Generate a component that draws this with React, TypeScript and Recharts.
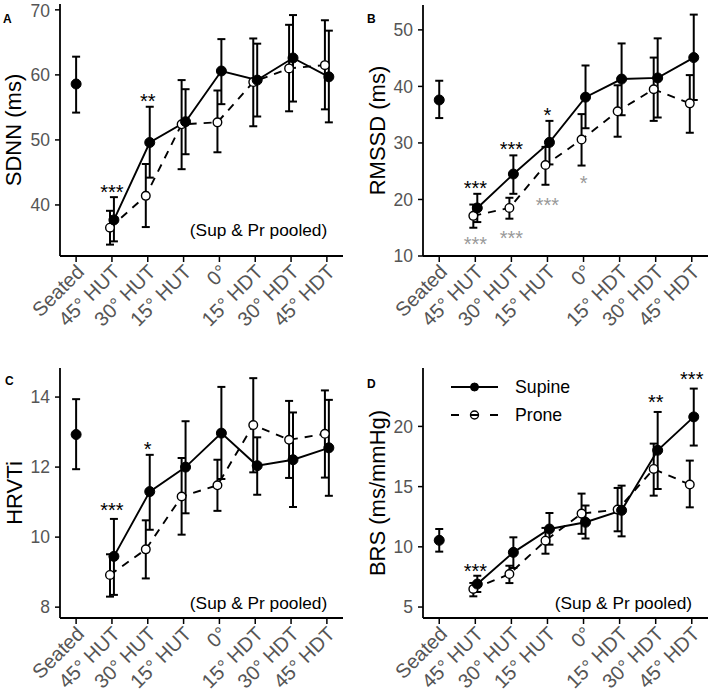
import React from 'react';
import { ComposedChart, Line, Scatter, XAxis, YAxis, ErrorBar, Label, Legend } from 'recharts';

const positions = ['Seated', '45° HUT', '30° HUT', '15° HUT', '0°', '15° HDT', '30° HDT', '45° HDT'];
const xTicks = [0, 1, 2, 3, 4, 5, 6, 7];

// seated: [mean, lower, upper]; tilt series run 45° HUT .. 45° HDT
const sdnnSeated = [58.6, 54.2, 62.8];
const sdnnSupine = [37.7, 49.6, 52.8, 60.6, 59.2, 62.6, 59.7];
const sdnnSupineLo = [34.4, 44.2, 47.8, 55.5, 53.6, 55.9, 52.7];
const sdnnSupineHi = [41.2, 55.1, 57.8, 65.5, 64.8, 69.2, 66.8];
const sdnnProne = [36.5, 41.4, 52.4, 52.7, 58.9, 61.0, 61.5];
const sdnnProneLo = [33.9, 36.6, 45.5, 48.1, 52.1, 54.4, 54.7];
const sdnnProneHi = [39.1, 46.3, 59.2, 57.6, 65.6, 67.7, 68.4];

const rmssdSeated = [37.6, 34.4, 41.0];
const rmssdSupine = [18.5, 24.5, 30.1, 38.1, 41.3, 41.5, 45.1];
const rmssdSupineLo = [16.0, 21.0, 26.2, 32.6, 34.9, 34.5, 37.6];
const rmssdSupineHi = [21.0, 27.8, 33.9, 43.7, 47.6, 48.5, 52.7];
const rmssdProne = [17.1, 18.5, 26.1, 30.6, 35.6, 39.5, 37.0];
const rmssdProneLo = [15.0, 16.6, 22.6, 26.0, 31.1, 33.9, 31.8];
const rmssdProneHi = [19.1, 20.3, 29.3, 35.1, 40.2, 45.1, 42.0];

const hrvtiSeated = [12.93, 11.94, 13.94];
const hrvtiSupine = [9.45, 11.3, 12.0, 12.97, 12.04, 12.21, 12.55];
const hrvtiSupineLo = [8.35, 10.21, 10.68, 11.66, 11.21, 10.86, 11.18];
const hrvtiSupineHi = [10.52, 12.35, 13.31, 14.29, 12.85, 13.56, 13.92];
const hrvtiProne = [8.92, 9.65, 11.16, 11.48, 13.2, 12.78, 12.95];
const hrvtiProneLo = [8.3, 8.82, 10.07, 10.75, 11.85, 11.69, 11.7];
const hrvtiProneHi = [9.51, 10.48, 12.26, 12.21, 14.54, 13.89, 14.19];

const brsSeated = [10.54, 9.6, 11.48];
const brsSupine = [6.91, 9.54, 11.48, 12.04, 13.03, 18.02, 20.79];
const brsSupineLo = [6.25, 8.24, 10.18, 10.69, 10.87, 14.8, 18.41];
const brsSupineHi = [7.6, 10.79, 12.81, 13.43, 15.08, 21.2, 23.14];
const brsProne = [6.5, 7.74, 10.51, 12.76, 13.09, 16.47, 15.17];
const brsProneLo = [5.89, 6.99, 9.43, 11.08, 11.29, 14.25, 13.28];
const brsProneHi = [7.0, 8.43, 11.57, 14.42, 14.89, 18.57, 17.16];

// significance marks: x = position index, y = value where the mark sits
const sdnnStars = [
  { x: 1, y: 42.7, text: '***', group: 'supine' },
  { x: 2, y: 56.7, text: '**', group: 'supine' },
];
const rmssdStars = [
  { x: 1, y: 22.8, text: '***', group: 'supine' },
  { x: 2, y: 29.8, text: '***', group: 'supine' },
  { x: 3, y: 35.8, text: '*', group: 'supine' },
  { x: 1, y: 12.9, text: '***', group: 'prone' },
  { x: 2, y: 14.0, text: '***', group: 'prone' },
  { x: 3, y: 19.9, text: '***', group: 'prone' },
  { x: 4, y: 23.8, text: '*', group: 'prone' },
];
const hrvtiStars = [
  { x: 1, y: 10.92, text: '***', group: 'supine' },
  { x: 2, y: 12.64, text: '*', group: 'supine' },
];
const brsStars = [
  { x: 1, y: 8.38, text: '***', group: 'supine' },
  { x: 6, y: 22.37, text: '**', group: 'supine' },
  { x: 7, y: 24.3, text: '***', group: 'supine' },
];

const pooledNote = '(Sup & Pr pooled)';
const FONT = '"Liberation Sans", Arial, Helvetica, sans-serif';
const DODGE = 0.055;

function series(mean: number[], lo: number[], hi: number[], shift: number) {
  return mean.map((m, i) => ({ x: i + 1 + shift, y: m, err: [m - lo[i], hi[i] - m] }));
}

function seatedPoint(s: number[]) {
  return [{ x: 0, y: s[0], err: [s[0] - s[1], s[2] - s[0]] }];
}

const XTick = (props: any) => {
  const { x, y, payload } = props;
  const ax = x - 1;
  return (
    <text x={ax} y={y} dy="0.72em" textAnchor="end" transform={`rotate(-45, ${ax}, ${y})`}
      fill="#555" fontSize={20} fontFamily={FONT}>
      {positions[payload.value]}
    </text>
  );
};

const StarMark = (props: any) => {
  const { cx, cy, payload } = props;
  const fs = 20;
  return (
    <text x={cx} y={cy + 0.58 * fs} textAnchor="middle" fontSize={fs} fontFamily={FONT}
      fill={payload.group === 'prone' ? '#999' : '#000'}>
      {payload.text}
    </text>
  );
};

const NoteMark = (props: any) => {
  const { cx, cy, payload } = props;
  return (
    <text x={cx} y={cy} dominantBaseline="central" textAnchor="end" fontSize={17.3} fontFamily={FONT} fill="#000">
      {payload.text}
    </text>
  );
};

const LegendKeys = () => (
  <svg width={150} height={62} style={{ overflow: 'visible' }}>
    <line x1={2} x2={49} y1={17} y2={17} stroke="#000" strokeWidth={2} />
    <circle cx={25.5} cy={17} r={4} fill="#000" stroke="#000" />
    <text x={66} y={17} dominantBaseline="central" fontSize={17.7} fontFamily={FONT}>Supine</text>
    <line x1={2} x2={49} y1={45} y2={45} stroke="#000" strokeWidth={2} strokeDasharray="8 11.5" />
    <circle cx={25.5} cy={45} r={4} fill="none" stroke="#000" strokeWidth={1.4} />
    <text x={66} y={45} dominantBaseline="central" fontSize={17.7} fontFamily={FONT}>Prone</text>
  </svg>
);

type PanelProps = {
  tag: string; tagX: number; tagY: number;
  left: number; top: number; width: number; height: number;
  marginTop: number; marginRight: number; yAxisWidth: number; xAxisHeight: number;
  domain: [number, number]; ticks: number[];
  title: string; titleX: number;
  seated: number[];
  supine: number[]; supineLo: number[]; supineHi: number[];
  prone: number[]; proneLo: number[]; proneHi: number[];
  stars: { x: number; y: number; text: string; group: string }[];
  noteY?: number;
  legend?: boolean;
};

function Panel(p: PanelProps) {
  const sup = series(p.supine, p.supineLo, p.supineHi, DODGE);
  const pr = series(p.prone, p.proneLo, p.proneHi, -DODGE);
  const seat = seatedPoint(p.seated);
  const note = p.noteY !== undefined ? [{ x: 7.01, y: p.noteY, text: pooledNote }] : [];
  const eb = { dataKey: 'err', direction: 'y' as const, width: 4, stroke: '#000', strokeWidth: 2 };
  const plotH = p.height - p.marginTop - p.xAxisHeight;
  const titleY = p.marginTop + plotH / 2;
  return (
    <>
      <div style={{ position: 'absolute', left: p.tagX, top: p.tagY, fontFamily: FONT, fontWeight: 'bold', fontSize: 12, lineHeight: 1 }}>
        {p.tag}
      </div>
      <div style={{ position: 'absolute', left: p.left, top: p.top }}>
        <ComposedChart width={p.width} height={p.height}
          margin={{ top: p.marginTop, right: p.marginRight, left: 0, bottom: 0 }}>
          <XAxis type="number" dataKey="x" domain={[-0.45, 7.45]} ticks={xTicks} allowDataOverflow
            height={p.xAxisHeight} tick={<XTick />} tickSize={6} tickMargin={1}
            axisLine={{ stroke: '#000', strokeWidth: 1.8 }} tickLine={{ stroke: '#000', strokeWidth: 1.5 }} />
          <YAxis type="number" domain={p.domain} ticks={p.ticks} allowDataOverflow width={p.yAxisWidth}
            tickSize={5} tickMargin={5}
            tick={{ fill: '#555', fontSize: 17.5, fontFamily: FONT }}
            axisLine={{ stroke: '#000', strokeWidth: 1.8 }} tickLine={{ stroke: '#000', strokeWidth: 1.5 }}>
            <Label content={() => (
              <text x={p.titleX} y={titleY} transform={`rotate(-90, ${p.titleX}, ${titleY})`}
                textAnchor="middle" dominantBaseline="central" fontSize={22} fontFamily={FONT} fill="#000">
                {p.title}
              </text>
            )} />
          </YAxis>
          <Line data={pr} dataKey="y" stroke="none" dot={false} activeDot={false} isAnimationActive={false} legendType="none">
            <ErrorBar {...eb} />
          </Line>
          <Line data={sup} dataKey="y" stroke="none" dot={false} activeDot={false} isAnimationActive={false} legendType="none">
            <ErrorBar {...eb} />
          </Line>
          <Line data={seat} dataKey="y" stroke="none" dot={false} activeDot={false} isAnimationActive={false} legendType="none">
            <ErrorBar {...eb} />
          </Line>
          <Line data={pr} dataKey="y" name="Prone" stroke="#000" strokeWidth={1.9} strokeDasharray="8 7"
            dot={{ r: 4.3, fill: '#fff', stroke: '#000', strokeWidth: 1.4, strokeDasharray: '' }}
            activeDot={false} isAnimationActive={false} />
          <Line data={sup} dataKey="y" name="Supine" stroke="#000" strokeWidth={1.9}
            dot={{ r: 5, fill: '#000', stroke: '#000', strokeWidth: 1 }}
            activeDot={false} isAnimationActive={false} />
          <Line data={seat} dataKey="y" stroke="none" legendType="none"
            dot={{ r: 5, fill: '#000', stroke: '#000', strokeWidth: 1 }}
            activeDot={false} isAnimationActive={false} />
          <Scatter data={p.stars} dataKey="y" shape={<StarMark />} isAnimationActive={false} legendType="none" />
          {note.length > 0 && (
            <Scatter data={note} dataKey="y" shape={<NoteMark />} isAnimationActive={false} legendType="none" />
          )}
          {p.legend && (
            <Legend layout="vertical" align="center" verticalAlign="middle" content={() => <LegendKeys />}
              wrapperStyle={{ position: 'absolute', left: 95, top: 30, width: 150, height: 62 }} />
          )}
        </ComposedChart>
      </div>
    </>
  );
}

export default function App() {
  return (
    <div style={{ position: 'absolute', left: 0, top: 0, width: 709, height: 699, background: '#fff', overflow: 'hidden' }}>
      <style>{'.recharts-surface{overflow:visible}'}</style>
      <Panel tag="A" tagX={3} tagY={13.4} left={0} top={0} width={354} height={340}
        marginTop={4} marginRight={11} yAxisWidth={60} xAxisHeight={84}
        domain={[32.15, 70.9]} ticks={[40, 50, 60, 70]}
        title="SDNN (ms)" titleX={13}
        seated={sdnnSeated} supine={sdnnSupine} supineLo={sdnnSupineLo} supineHi={sdnnSupineHi}
        prone={sdnnProne} proneLo={sdnnProneLo} proneHi={sdnnProneHi}
        stars={sdnnStars} noteY={36.15} />
      <Panel tag="B" tagX={367} tagY={13.4} left={354} top={0} width={355} height={340}
        marginTop={5} marginRight={1} yAxisWidth={69} xAxisHeight={84}
        domain={[10, 54.4]} ticks={[10, 20, 30, 40, 50]}
        title="RMSSD (ms)" titleX={23}
        seated={rmssdSeated} supine={rmssdSupine} supineLo={rmssdSupineLo} supineHi={rmssdSupineHi}
        prone={rmssdProne} proneLo={rmssdProneLo} proneHi={rmssdProneHi}
        stars={rmssdStars} />
      <Panel tag="C" tagX={5} tagY={375.4} left={0} top={340} width={354} height={359}
        marginTop={28} marginRight={11} yAxisWidth={60} xAxisHeight={81}
        domain={[7.69, 14.83]} ticks={[8, 10, 12, 14]}
        title="HRVTi" titleX={14}
        seated={hrvtiSeated} supine={hrvtiSupine} supineLo={hrvtiSupineLo} supineHi={hrvtiSupineHi}
        prone={hrvtiProne} proneLo={hrvtiProneLo} proneHi={hrvtiProneHi}
        stars={hrvtiStars} noteY={8.11} />
      <Panel tag="D" tagX={367} tagY={378.4} left={354} top={340} width={355} height={359}
        marginTop={28} marginRight={1} yAxisWidth={69} xAxisHeight={81}
        domain={[4.09, 24.85]} ticks={[5, 10, 15, 20]}
        title="BRS (ms/mmHg)" titleX={23}
        seated={brsSeated} supine={brsSupine} supineLo={brsSupineLo} supineHi={brsSupineHi}
        prone={brsProne} proneLo={brsProneLo} proneHi={brsProneHi}
        stars={brsStars} noteY={5.33} legend />
    </div>
  );
}
